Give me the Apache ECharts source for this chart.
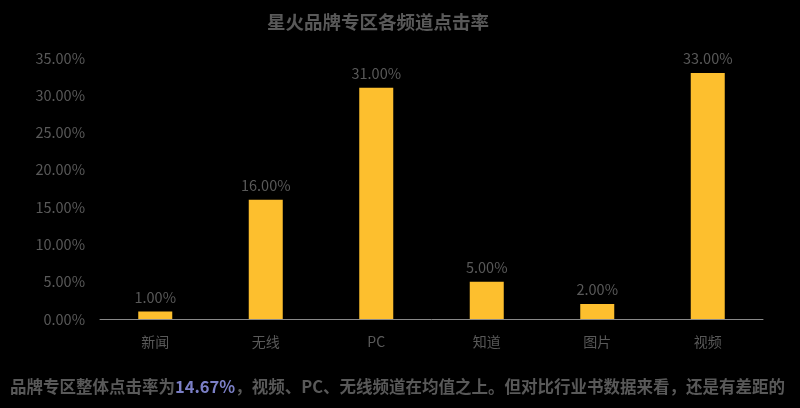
<!DOCTYPE html>
<html><head><meta charset="utf-8">
<script src="https://cdn.jsdelivr.net/npm/echarts@6/dist/echarts.min.js"></script>
<style>html,body{margin:0;padding:0;background:#000}#c{width:800px;height:408px}</style>
</head><body><div id="c"></div>
<script>
const categories = ['新闻','无线','PC','知道','图片','视频'];
const clickRates = [1.00, 16.00, 31.00, 5.00, 2.00, 33.00];
const titleText = '星火品牌专区各频道点击率';
const noteBefore = '品牌专区整体点击率为';
const noteHighlight = '14.67%';
const noteAfter = '，视频、PC、无线频道在均值之上。但对比行业书数据来看，还是有差距的';

const font = '"Noto Sans CJK SC", "Noto Sans", sans-serif';
const chart = echarts.init(document.getElementById('c'));
chart.setOption({
  backgroundColor: '#000',
  animation: false,
  title: {
    text: titleText, left: 262, top: 8,
    textStyle: {color: '#595959', fontSize: 18.5, fontWeight: 'bold', fontFamily: font}
  },
  grid: {left: 100, right: 37, top: 58, bottom: 89},
  xAxis: {
    type: 'category', data: categories,
    axisLine: {lineStyle: {color: '#898989', width: 1}},
    axisTick: {show: false},
    axisLabel: {color: '#595959', fontSize: 14, fontFamily: font, margin: 16}
  },
  yAxis: {
    type: 'value', min: 0, max: 35, interval: 5,
    axisLine: {show: false}, axisTick: {show: false}, splitLine: {show: false},
    axisLabel: {color: '#595959', fontSize: 14.5, fontFamily: font, margin: 15,
      formatter: v => v.toFixed(2) + '%'}
  },
  series: [{
    type: 'bar', data: clickRates, barWidth: 34,
    itemStyle: {color: '#FDBF2E'},
    label: {show: true, position: 'top', color: '#595959', fontSize: 14.5, fontFamily: font, distance: 7,
      formatter: p => p.value.toFixed(2) + '%'}
  }],
  graphic: [{
    type: 'text', left: 10, top: 378,
    style: {
      text: '{a|' + noteBefore + '}{b|' + noteHighlight + '}{a|' + noteAfter + '}',
      rich: {
        a: {fill: '#595959', fontSize: 16.5, fontWeight: 'bold', fontFamily: font},
        b: {fill: '#7B7FC6', fontSize: 16.5, fontWeight: 'bold', fontFamily: font}
      }
    }
  }]
});
</script></body></html>
